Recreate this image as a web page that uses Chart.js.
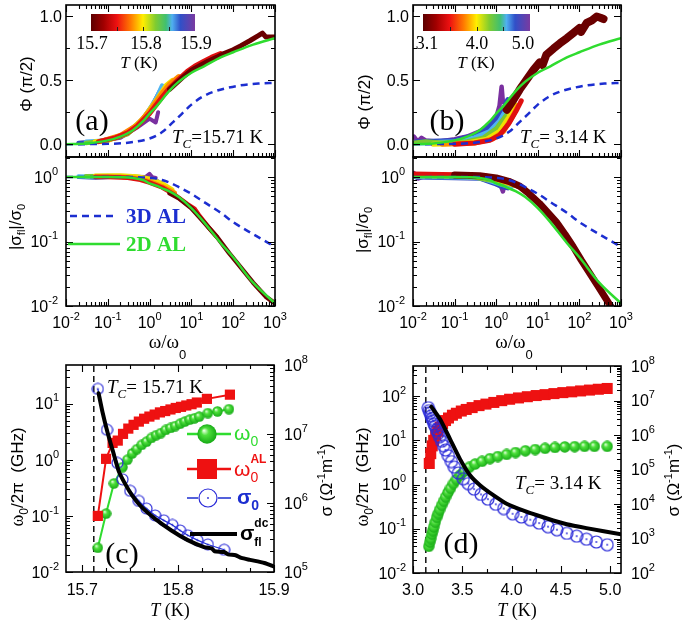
<!DOCTYPE html>
<html>
<head>
<meta charset="utf-8">
<script src="https://cdn.jsdelivr.net/npm/chart.js@4.4.1/dist/chart.umd.min.js"></script>
<style>
  html, body { margin: 0; padding: 0; background: #fff; }
  #wrap { position: relative; width: 685px; height: 624px; overflow: hidden; background: #fff; }
  #wrap canvas { position: absolute; left: 0; top: 0; }
</style>
</head>
<body>
<div id="wrap">
  <canvas id="pa1" width="685" height="624"></canvas>
  <canvas id="pa2" width="685" height="624"></canvas>
  <canvas id="pb1" width="685" height="624"></canvas>
  <canvas id="pb2" width="685" height="624"></canvas>
  <canvas id="pc" width="685" height="624"></canvas>
  <canvas id="pd" width="685" height="624"></canvas>
</div>
<script>
// ---------- data: theory curves (same in a and b) ----------
const omTh   = [0.01, 0.03, 0.1, 0.2, 0.4, 0.7, 1, 1.5, 2, 3, 5, 10, 20, 50, 100, 300, 1000];
const phi2D  = [0, 0.005, 0.03, 0.06, 0.11, 0.18, 0.24, 0.30, 0.35, 0.42, 0.49, 0.56, 0.61, 0.68, 0.72, 0.78, 0.83];
const sig2D  = [1.0, 1.0, 1.0, 0.995, 0.97, 0.9, 0.8, 0.73, 0.67, 0.6, 0.49, 0.33, 0.2, 0.095, 0.057, 0.023, 0.011];
const sig3D  = [1, 1, 1, 1, 1, 0.99, 0.97, 0.94, 0.9, 0.82, 0.7, 0.55, 0.41, 0.28, 0.2, 0.13, 0.083];
const omTh3  = [0.01, 0.1, 0.3, 1, 2, 3.7, 6, 10, 18, 33, 70, 145, 400, 1000];
const phi3D  = [0, 0.003, 0.012, 0.045, 0.095, 0.175, 0.24, 0.31, 0.37, 0.41, 0.44, 0.46, 0.475, 0.48];

// ---------- data: measured curves, one per temperature (dark red = lowest T ... purple = highest T) ----------
const aPhiExp = [
  [[3,0.43],[6,0.52],[10,0.58],[15,0.61],[25,0.65],[40,0.68],[60,0.71],[100,0.74],[150,0.77],[250,0.81],[400,0.85],[500,0.87],[600,0.84],[800,0.84],[1000,0.84]],
  [[0.06,0.02],[0.15,0.05],[0.3,0.09],[0.5,0.14],[1,0.24],[2,0.37],[3,0.44],[5,0.51],[8,0.57],[12,0.61],[20,0.65],[30,0.68],[50,0.71]],
  [[0.08,0.03],[0.2,0.07],[0.5,0.15],[1,0.26],[2,0.4],[3,0.47],[5,0.53]],
  [[0.05,0.02],[0.1,0.03],[0.3,0.09],[0.7,0.2],[1.5,0.35],[2.5,0.46],[3.5,0.5]],
  [[0.03,0.01],[0.1,0.03],[0.3,0.08],[0.7,0.19],[1.2,0.3],[2,0.41]],
  [[0.03,0.02],[0.1,0.03],[0.3,0.09],[0.8,0.22],[1.5,0.37],[2,0.46]],
  [[0.02,0.01],[0.05,0.015],[0.2,0.06],[0.6,0.17],[1.2,0.31],[1.8,0.42]],
  [[0.02,0.01],[0.05,0.02],[0.2,0.05],[0.5,0.13],[1,0.2],[1.4,0.17],[1.6,0.25]]
];
const aSigExp = [
  [[3,0.56],[5,0.47],[10,0.33],[20,0.2],[40,0.12],[80,0.066],[150,0.04],[300,0.023],[600,0.014],[1000,0.011]],
  [[0.05,1.0],[0.1,1.0],[0.3,0.98],[0.6,0.91],[1,0.82],[2,0.69],[4,0.53],[8,0.38],[12,0.32],[15,0.26],[25,0.17],[40,0.12]],
  [[0.05,1.02],[0.2,1.01],[0.5,0.96],[1,0.86],[2,0.72],[4,0.57]],
  [[0.05,1.05],[0.2,1.06],[0.5,1.02],[1,0.94],[2,0.8],[3.5,0.64]],
  [[0.03,1.03],[0.1,1.04],[0.3,1.03],[0.7,0.96],[1.5,0.82],[2,0.74]],
  [[0.02,1.02],[0.06,1.0],[0.2,1.03],[0.6,0.99],[1.2,0.89],[2,0.79]],
  [[0.02,1.0],[0.05,0.98],[0.2,1.02],[0.5,1.0],[1,0.95],[1.6,0.86]],
  [[0.02,1.0],[0.05,1.0],[0.3,1.02],[0.8,1.0],[1,1.12],[1.15,1.0],[1.4,0.97]]
];
const bPhiExp = [
  [[1.8,0.27],[2.5,0.34],[3.7,0.43],[5.5,0.51],[7.8,0.58],[11,0.64],[13,0.62],[16,0.7],[24,0.75],[34,0.79],[50,0.83],[71,0.87],[100,0.91],[110,0.88],[150,0.95],[200,0.97],[260,1.0],[320,0.99],[380,0.98]],
  [[0.1,0.0],[0.3,0.01],[0.7,0.03],[1.2,0.07],[2,0.16],[3,0.26],[4,0.34]],
  [[0.05,0.0],[0.3,0.01],[0.8,0.04],[1.5,0.1],[2.5,0.22],[3.3,0.3]],
  [[0.03,0.0],[0.2,0.01],[0.6,0.04],[1.2,0.1],[2,0.21],[2.8,0.31]],
  [[0.011,0.01],[0.02,0.02],[0.05,0.01],[0.2,0.02],[0.5,0.05],[1,0.12],[2,0.25],[2.6,0.33]],
  [[0.015,0.01],[0.1,0.02],[0.3,0.05],[0.7,0.1],[1.2,0.18],[2,0.3],[2.3,0.36]],
  [[0.012,0.02],[0.1,0.03],[0.3,0.07],[0.6,0.12],[1,0.19],[1.5,0.28],[1.9,0.35]],
  [[0.0105,0.06],[0.013,0.02],[0.016,0.05],[0.02,0.03],[0.04,0.02],[0.1,0.04],[0.2,0.06],[0.4,0.1],[0.7,0.15],[1,0.21],[1.2,0.3],[1.35,0.45],[1.45,0.33]]
];
const bSigExp = [
  [[0.1,1.08],[0.4,1.05],[1,0.97],[2,0.86],[3.7,0.72],[6,0.56],[11,0.39],[16,0.3],[28,0.2],[45,0.13],[71,0.083],[110,0.052],[178,0.032],[300,0.019],[525,0.0107],[700,0.008]],
  [[0.01,1.12],[0.05,1.1],[0.2,1.08],[0.5,1.05],[1,0.97],[2,0.85],[3,0.76],[5,0.62]],
  [[0.01,1.1],[0.05,1.08],[0.3,1.06],[1,0.95],[2,0.83],[3.3,0.72]],
  [[0.01,1.08],[0.1,1.06],[0.3,1.03],[0.8,0.95],[1.5,0.86],[2.8,0.74]],
  [[0.01,1.05],[0.1,1.03],[0.3,1.0],[0.6,0.92],[1,0.88],[2.6,0.76]],
  [[0.012,1.02],[0.1,1.0],[0.4,0.98],[0.8,0.86],[1.3,0.78],[2.3,0.7]],
  [[0.012,1.0],[0.1,0.98],[0.4,0.96],[0.9,0.8],[1.3,0.72],[1.9,0.68]],
  [[0.0105,1.15],[0.013,0.95],[0.02,1.05],[0.1,1.05],[0.5,1.0],[1.2,0.85],[1.45,0.6],[1.55,0.72]]
];

// ---------- data: panel (c), Tc = 15.71 K ----------
const cTc = 15.712;
const cSqT = [15.7162, 15.7248, 15.7316, 15.737, 15.7425, 15.748, 15.7535, 15.759, 15.7645, 15.77, 15.7755, 15.781, 15.7865, 15.792, 15.7975, 15.803, 15.8085, 15.814, 15.8195, 15.830, 15.854];
const cSqW = [0.10, 1.04, 2.0, 2.2, 2.9, 3.6, 4.2, 4.8, 5.4, 5.9, 6.4, 7.0, 7.4, 7.9, 8.4, 8.8, 9.3, 9.8, 10.5, 12.2, 14.5];
const cGrT = [15.7162, 15.7248, 15.733, 15.742, 15.747, 15.752, 15.757, 15.762, 15.767, 15.772, 15.777, 15.782, 15.787, 15.792, 15.797, 15.802, 15.807, 15.812, 15.817, 15.822, 15.831, 15.841, 15.853];
const cGrW = [0.027, 0.11, 0.38, 0.74, 1.0, 1.3, 1.55, 1.85, 2.1, 2.45, 2.75, 3.0, 3.4, 3.7, 4.0, 4.4, 4.8, 5.2, 5.5, 5.9, 6.8, 7.3, 8.0];
const cBlT = [15.7162, 15.7258, 15.7367, 15.742, 15.750, 15.759, 15.767, 15.776, 15.785, 15.794, 15.802, 15.810, 15.820, 15.831, 15.848];
const cBlS = [4.5e7, 1.15e7, 3.8e6, 2.2e6, 1.5e6, 1.07e6, 8.3e5, 6.6e5, 5.6e5, 4.8e5, 4.0e5, 3.4e5, 2.9e5, 2.5e5, 2.1e5];
const cBkT = [15.717, 15.721, 15.726, 15.732, 15.738, 15.745, 15.752, 15.762, 15.776, 15.793, 15.81, 15.827, 15.835, 15.838, 15.848, 15.852, 15.86, 15.866, 15.875, 15.89, 15.9];
const cBkS = [3.9e7, 2.1e7, 1.1e7, 5.6e6, 2.9e6, 1.86e6, 1.29e6, 8.7e5, 5.9e5, 4.0e5, 2.9e5, 2.3e5, 2.2e5, 2.0e5, 1.95e5, 1.8e5, 1.75e5, 1.6e5, 1.5e5, 1.35e5, 1.2e5];

// ---------- data: panel (d), Tc = 3.14 K ----------
const dTc = 3.13;
const dSqT = [3.165, 3.18, 3.195, 3.21, 3.23, 3.25, 3.275, 3.30, 3.33, 3.36, 3.40, 3.44, 3.49, 3.54, 3.60, 3.67, 3.74, 3.82, 3.90, 3.98, 4.07, 4.16, 4.25, 4.34, 4.43, 4.52, 4.61, 4.70, 4.79, 4.88, 4.97];
const dSqW = [3.0, 5.0, 7.5, 10, 13, 16, 20, 24, 28, 32, 37, 41, 46, 50, 55, 61, 66, 72, 79, 85, 91, 97, 103, 108, 114, 120, 125, 131, 137, 143, 149];
const dGrT = [3.16, 3.17, 3.18, 3.19, 3.20, 3.21, 3.225, 3.24, 3.255, 3.27, 3.29, 3.31, 3.33, 3.355, 3.38, 3.41, 3.44, 3.48, 3.52, 3.57, 3.63, 3.70, 3.78, 3.86, 3.95, 4.04, 4.14, 4.24, 4.34, 4.44, 4.54, 4.64, 4.74, 4.84, 4.97];
const dGrW = [0.04, 0.05, 0.06, 0.075, 0.09, 0.11, 0.14, 0.18, 0.22, 0.27, 0.34, 0.42, 0.52, 0.66, 0.82, 1.05, 1.3, 1.65, 2.0, 2.45, 2.9, 3.35, 3.85, 4.3, 4.8, 5.3, 5.8, 6.2, 6.6, 6.9, 7.1, 7.2, 7.3, 7.3, 7.3];
const dBlT = [3.155, 3.165, 3.175, 3.185, 3.195, 3.205, 3.215, 3.225, 3.24, 3.255, 3.27, 3.29, 3.31, 3.33, 3.36, 3.39, 3.42, 3.46, 3.51, 3.56, 3.62, 3.69, 3.76, 3.84, 3.92, 4.01, 4.10, 4.19, 4.28, 4.37, 4.46, 4.56, 4.66, 4.76, 4.86, 4.97];
const dBlS = [6.2e6, 5.1e6, 4.4e6, 3.6e6, 3.0e6, 2.6e6, 2.1e6, 1.8e6, 1.4e6, 1.12e6, 8.9e5, 6.6e5, 4.9e5, 3.7e5, 2.5e5, 1.7e5, 1.17e5, 7.9e4, 5.4e4, 3.9e4, 2.7e4, 1.9e4, 1.38e4, 9.8e3, 7.4e3, 5.2e3, 4.2e3, 3.5e3, 2.8e3, 2.2e3, 1.8e3, 1.41e3, 1.17e3, 955, 794, 661];
const dBkT = [3.185, 3.206, 3.274, 3.376, 3.477, 3.579, 3.68, 3.815, 3.95, 4.15, 4.36, 4.56, 4.76, 5.11];
const dBkS = [6.6e6, 5.5e6, 2.9e6, 7.6e5, 2.0e5, 6.8e4, 3.5e4, 1.8e4, 1.02e4, 6.0e3, 3.8e3, 2.6e3, 2.0e3, 1.32e3];

// ---------- tick labels ----------
const phiTicks = [0, 0.5, 1.0];
const omExp = [-2, -1, 0, 1, 2, 3];
const sigExp = [-2, -1, 0];
const cbLabA = [['15.7', 92], ['15.8', 146], ['15.9', 196]];
const cbLabB = [['3.1', 427], ['4.0', 477], ['5.0', 523]];
const cTTicks = [15.7, 15.8, 15.9];
const dTTicks = [3.0, 3.5, 4.0, 4.5, 5.0];
const cLeftExp = [-2, -1, 0, 1], cRightExp = [5, 6, 7, 8];
const dLeftExp = [-2, -1, 0, 1, 2], dRightExp = [2, 3, 4, 5, 6, 7, 8];

// ---------- styles ----------
const W = 685, H = 624;
const SANS = '"Liberation Sans", Arial, sans-serif';
const SERIF = '"Liberation Serif", "Times New Roman", serif';
const FT = '16px ' + SANS, FS = '11px ' + SANS;
const GREEN = '#2fdc2f', BLUE = '#1c2ed0', RED = '#ee1111';
const tempCols = ['#6a0000', '#e01010', '#ff8a00', '#f0e000', '#78c832', '#4fb4f0', '#3048c0', '#7a30a0'];
const cbStops = [[0, '#5c0000'], [0.12, '#a00000'], [0.25, '#ee1111'], [0.38, '#ff7a00'], [0.5, '#ffee00'],
  [0.62, '#80cc30'], [0.72, '#40c070'], [0.78, '#50b0f0'], [0.86, '#3050c8'], [1, '#7a3aa0']];

// marker images
function sphere(d) {
  const cv = document.createElement('canvas'); cv.width = cv.height = d;
  const g = cv.getContext('2d'), r = d / 2;
  const gr = g.createRadialGradient(r * 0.7, r * 0.65, r * 0.05, r, r, r);
  gr.addColorStop(0, '#e4ffdc'); gr.addColorStop(0.35, '#4ee03c'); gr.addColorStop(1, '#14a814');
  g.fillStyle = gr; g.beginPath(); g.arc(r, r, r - 0.3, 0, Math.PI * 2); g.fill();
  return cv;
}
function ring(d) {
  const cv = document.createElement('canvas'); cv.width = cv.height = d;
  const g = cv.getContext('2d'), r = d / 2;
  g.strokeStyle = '#2a2ad8'; g.lineWidth = 1.2;
  g.beginPath(); g.arc(r, r, r - 1, 0, Math.PI * 2); g.stroke();
  g.fillStyle = '#2a2ad8'; g.beginPath(); g.arc(r, r, 0.9, 0, Math.PI * 2); g.fill();
  return cv;
}
const sph11 = sphere(11), sph12 = sphere(12), sph20 = sphere(20);
const ring13 = ring(13), ring14 = ring(14), ring20 = ring(20);

// ---------- helpers ----------
const xy = (xs, ys) => xs.map((x, i) => ({ x, y: ys[i] }));
const pp = arr => arr.map(p => ({ x: p[0], y: p[1] }));

function lineDs(data, color, width, extra) {
  return Object.assign({ data, showLine: true, borderColor: color, borderWidth: width, pointRadius: 0, tension: 0,
    borderJoinStyle: 'round', borderCapStyle: 'round' }, extra || {});
}

function rich(ctx, x, y, parts, align, rot, color) {
  ctx.save();
  ctx.translate(x, y);
  if (rot) ctx.rotate(rot);
  ctx.textBaseline = 'alphabetic';
  ctx.textAlign = 'left';
  let cur = 0, start = 0;
  const xs = [];
  for (const p of parts) {
    ctx.font = p[1];
    const w = ctx.measureText(p[0]).width;
    let px;
    if (p[4]) { px = start; cur = Math.max(cur, px + w); }
    else { px = cur; start = cur; cur = px + w; }
    xs.push(px);
  }
  const off = align === 'center' ? -cur / 2 : align === 'right' ? -cur : 0;
  parts.forEach((p, i) => {
    ctx.font = p[1];
    ctx.fillStyle = p[3] || color || '#000';
    ctx.fillText(p[0], off + xs[i], p[2] || 0);
  });
  ctx.restore();
}

function pow10(ctx, x, y, e, align) {
  rich(ctx, x, y, [['10', FT], [String(e), FS, -8]], align);
}

function frame(ctx, c) {
  const a = c.chartArea;
  ctx.strokeStyle = '#000'; ctx.lineWidth = 1.6;
  ctx.strokeRect(a.left, a.top, a.right - a.left, a.bottom - a.top);
}

function tk(ctx, c, ax, vals, len, sides) {
  const s = c.scales[ax], a = c.chartArea;
  ctx.strokeStyle = '#000'; ctx.lineWidth = 1.1;
  ctx.beginPath();
  vals.forEach(v => {
    const p = Math.round(s.getPixelForValue(v)) + 0.5;
    if (s.isHorizontal()) {
      if (sides.includes('b')) { ctx.moveTo(p, a.bottom); ctx.lineTo(p, a.bottom - len); }
      if (sides.includes('t')) { ctx.moveTo(p, a.top); ctx.lineTo(p, a.top + len); }
    } else {
      if (sides.includes('l')) { ctx.moveTo(a.left, p); ctx.lineTo(a.left + len, p); }
      if (sides.includes('r')) { ctx.moveTo(a.right, p); ctx.lineTo(a.right - len, p); }
    }
  });
  ctx.stroke();
}

function logTk(ctx, c, ax, sides) {
  const s = c.scales[ax], maj = [], mnr = [];
  for (let e = Math.floor(Math.log10(s.min)) - 1; e <= Math.ceil(Math.log10(s.max)); e++) {
    const b = Math.pow(10, e);
    if (b >= s.min * 0.999 && b <= s.max * 1.001) maj.push(b);
    for (let m = 2; m <= 9; m++) { const v = m * b; if (v > s.min && v < s.max) mnr.push(v); }
  }
  tk(ctx, c, ax, maj, 7, sides);
  tk(ctx, c, ax, mnr, 4, sides);
}

function linTk(ctx, c, ax, step, mstep, sides) {
  const s = c.scales[ax], maj = [], mnr = [];
  for (let k = Math.ceil(s.min / mstep - 1e-6); k * mstep <= s.max + 1e-9; k++) {
    const v = k * mstep;
    const isMaj = Math.abs(v / step - Math.round(v / step)) < 1e-6;
    (isMaj ? maj : mnr).push(v);
  }
  tk(ctx, c, ax, maj, 7, sides);
  tk(ctx, c, ax, mnr, 4, sides);
}

function mkChart(id, area, scales, datasets, decor) {
  return new Chart(document.getElementById(id), {
    type: 'scatter',
    data: { datasets },
    options: {
      responsive: false, animation: false, devicePixelRatio: 1, events: [],
      layout: { padding: { left: area[0], top: area[1], right: W - area[2], bottom: H - area[3] } },
      scales,
      plugins: { legend: { display: false }, tooltip: { enabled: false } }
    },
    plugins: [{ id: 'decor', afterDraw(c) { const ctx = c.ctx; ctx.save(); decor(ctx, c); ctx.restore(); } }]
  });
}

// ---------- top panels (phase) ----------
function topDecor(ctx, c, o) {
  const a = c.chartArea;
  frame(ctx, c);
  logTk(ctx, c, 'x', 'bt');
  linTk(ctx, c, 'y', 0.5, 0.25, 'lr');
  phiTicks.forEach(v => rich(ctx, a.left - 4, c.scales.y.getPixelForValue(v) + 5.7, [[v.toFixed(1), FT]], 'right'));
  rich(ctx, o.yt[0], o.yt[1], [['Φ (π/2)', '17px ' + SANS]], 'center', -Math.PI / 2);
  const g = ctx.createLinearGradient(o.cb[0], 0, o.cb[1], 0);
  cbStops.forEach(s => g.addColorStop(s[0], s[1]));
  ctx.fillStyle = g; ctx.fillRect(o.cb[0], 14, o.cb[1] - o.cb[0], 17);
  ctx.strokeStyle = '#222'; ctx.lineWidth = 1;
  [0.25, 0.5, 0.75].forEach(t => {
    const x = Math.round(o.cb[0] + t * (o.cb[1] - o.cb[0])) + 0.5;
    ctx.beginPath(); ctx.moveTo(x, 31); ctx.lineTo(x, 27); ctx.stroke();
  });
  o.cbl.forEach(l => rich(ctx, l[1], 49, [[l[0], '18px ' + SERIF]], 'center'));
  rich(ctx, o.cbt, 68, [['T', 'italic 17px ' + SERIF], [' (K)', '17px ' + SERIF]], 'center');
  rich(ctx, o.lab[0], 130, [[o.lab[1], '30px ' + SERIF]], 'center');
  rich(ctx, o.tc[0], 143, [['T', 'italic 19px ' + SERIF], ['C', 'italic 13px ' + SERIF, 5], [o.tc[1], '19px ' + SERIF]], 'left');
}

function botDecor(ctx, c, o) {
  const a = c.chartArea;
  frame(ctx, c);
  logTk(ctx, c, 'x', 'b');
  logTk(ctx, c, 'y', 'lr');
  sigExp.forEach(e => pow10(ctx, a.left - 8, c.scales.y.getPixelForValue(Math.pow(10, e)) + 5.7, e, 'right'));
  omExp.forEach(e => pow10(ctx, c.scales.x.getPixelForValue(Math.pow(10, e)), 328, e, 'center'));
  rich(ctx, o.yt[0], o.yt[1], [['|σ', '17px ' + SANS], ['fl', '11px ' + SANS, 4], ['|/σ', '17px ' + SANS], ['0', '11px ' + SANS, 4]], 'center', -Math.PI / 2);
  rich(ctx, (a.left + a.right) / 2 - 3, 348, [['ω/ω', '19px ' + SERIF], ['0', '13px ' + SANS, 11]], 'center');
  if (o.legend) {
    ctx.lineWidth = 2.5;
    ctx.strokeStyle = BLUE; ctx.setLineDash([7, 5]);
    ctx.beginPath(); ctx.moveTo(70, 216); ctx.lineTo(114, 216); ctx.stroke();
    ctx.setLineDash([]); ctx.strokeStyle = GREEN;
    ctx.beginPath(); ctx.moveTo(68, 244); ctx.lineTo(120, 244); ctx.stroke();
    rich(ctx, 126, 223, [['3D AL', 'bold 21px ' + SERIF]], 'left', 0, BLUE);
    rich(ctx, 126, 251, [['2D AL', 'bold 21px ' + SERIF]], 'left', 0, GREEN);
  }
}

function theoryTop() {
  return [
    lineDs(xy(omTh, phi2D), GREEN, 2.5, { cubicInterpolationMode: 'monotone' }),
    lineDs(xy(omTh3, phi3D), BLUE, 2.5, { borderDash: [7, 5], cubicInterpolationMode: 'monotone', borderCapStyle: 'butt' })
  ];
}
function theoryBot() {
  return [
    lineDs(xy(omTh, sig2D), GREEN, 2.5, { cubicInterpolationMode: 'monotone' }),
    lineDs(xy(omTh, sig3D), BLUE, 2.5, { borderDash: [7, 5], cubicInterpolationMode: 'monotone', borderCapStyle: 'butt' })
  ];
}
const expDs = (sets, widths) => sets.map((s, i) => lineDs(pp(s), tempCols[i], widths[i]));

const omScale = { type: 'logarithmic', min: 0.01, max: 1000, display: false };
const phiScale = { type: 'linear', min: -0.1, max: 1.09, display: false };
const sigScale = { type: 'logarithmic', min: 0.01, max: 2.05, display: false };

mkChart('pa1', [66, 5, 275, 157], { x: omScale, y: phiScale },
  theoryTop().concat(expDs(aPhiExp, [5, 5, 5, 5, 4.5, 4.5, 4.5, 4])),
  (ctx, c) => topDecor(ctx, c, { yt: [32, 84], cb: [91, 195], cbl: cbLabA, cbt: 139, lab: [92, '(a)'], tc: [172, '=15.71 K'] }));

mkChart('pa2', [66, 157, 275, 306], { x: omScale, y: sigScale },
  theoryBot().concat(expDs(aSigExp, [4.5, 4.5, 4.5, 4.5, 4.5, 4.5, 4, 4])),
  (ctx, c) => botDecor(ctx, c, { yt: [21, 227], legend: true }));

mkChart('pb1', [413, 5, 621, 157], { x: omScale, y: phiScale },
  theoryTop().concat(expDs(bPhiExp, [8, 5, 5, 5, 5, 5, 5, 4.5])),
  (ctx, c) => topDecor(ctx, c, { yt: [370, 102], cb: [423, 530], cbl: cbLabB, cbt: 476, lab: [447, '(b)'], tc: [520, '= 3.14 K'] }));

mkChart('pb2', [413, 157, 621, 306], { x: omScale, y: sigScale },
  theoryBot().concat(expDs(bSigExp, [7, 5, 5, 5, 5, 5, 5, 4.5])),
  (ctx, c) => botDecor(ctx, c, { yt: [368, 230], legend: false }));

// ---------- (c) and (d) ----------
function tempDecor(ctx, c, o) {
  const a = c.chartArea;
  frame(ctx, c);
  linTk(ctx, c, 'x', o.xStep, o.xMinor, 'bt');
  logTk(ctx, c, 'y', 'l');
  logTk(ctx, c, 'y2', 'r');
  o.xt.forEach(v => rich(ctx, c.scales.x.getPixelForValue(v), 595, [[v.toFixed(1), FT]], 'center'));
  o.le.forEach(e => pow10(ctx, a.left - 7, c.scales.y.getPixelForValue(Math.pow(10, e)) + 5.7, e, 'right'));
  o.re.forEach(e => pow10(ctx, a.right + 10, c.scales.y2.getPixelForValue(Math.pow(10, e)) + 5.7, e, 'left'));
  rich(ctx, (a.left + a.right) / 2, 616, [['T', 'italic 18px ' + SERIF], [' (K)', '18px ' + SERIF]], 'center');
  rich(ctx, o.ylt, 477, [['ω', '18px ' + SERIF], ['0', '12px ' + SANS, 5], ['/2π  (GHz)', '17px ' + SANS]], 'center', -Math.PI / 2);
  rich(ctx, o.yrt, 480, [['σ (Ω', '17px ' + SANS], ['-1', '11px ' + SANS, -7], ['m', '17px ' + SANS], ['-1', '11px ' + SANS, -7], [')', '17px ' + SANS]], 'center', -Math.PI / 2);
  rich(ctx, o.tc[0], o.tc[1], [['T', 'italic 19px ' + SERIF], ['C', 'italic 13px ' + SERIF, 5], [o.tc[2], '19px ' + SERIF]], 'left');
  rich(ctx, o.lab[0], o.lab[1], [[o.lab[2], '30px ' + SERIF]], 'center');
  if (o.legend) {
    ctx.lineWidth = 2.5;
    ctx.strokeStyle = GREEN; ctx.beginPath(); ctx.moveTo(187, 434); ctx.lineTo(231, 434); ctx.stroke();
    ctx.drawImage(sph20, 197, 424);
    rich(ctx, 234, 440, [['ω', '21px ' + SANS], ['0', '14px ' + SANS, 6]], 'left', 0, GREEN);
    ctx.strokeStyle = RED; ctx.beginPath(); ctx.moveTo(187, 469); ctx.lineTo(231, 469); ctx.stroke();
    ctx.fillStyle = RED; ctx.fillRect(197, 459, 20, 20);
    rich(ctx, 234, 476, [['ω', '21px ' + SANS], ['AL', 'bold 12px ' + SANS, -13], ['0', '14px ' + SANS, 6, null, true]], 'left', 0, RED);
    ctx.lineWidth = 1.5;
    ctx.strokeStyle = BLUE; ctx.beginPath(); ctx.moveTo(187, 498); ctx.lineTo(198, 498); ctx.moveTo(218, 498); ctx.lineTo(231, 498); ctx.stroke();
    ctx.drawImage(ring20, 198, 488);
    rich(ctx, 237, 504, [['σ', 'bold 21px ' + SANS], ['0', 'bold 14px ' + SANS, 6]], 'left', 0, BLUE);
    ctx.lineWidth = 4; ctx.strokeStyle = '#000';
    ctx.beginPath(); ctx.moveTo(190, 534); ctx.lineTo(237, 534); ctx.stroke();
    rich(ctx, 240, 540, [['σ', 'bold 21px ' + SANS], ['dc', 'bold 12px ' + SANS, -13], ['fl', 'bold 12px ' + SANS, 6, null, true]], 'left', 0, '#000');
  }
}

function tempSets(tcx, tcRange, sqT, sqW, grT, grW, blT, blS, bkT, bkS, st) {
  return [
    lineDs(xy(bkT, bkS), '#000', 4, { yAxisID: 'y2', tension: 0.2 }),
    { data: xy(blT, blS), yAxisID: 'y2', showLine: st.lines, borderColor: BLUE, borderWidth: 1.2,
      pointStyle: st.ring, pointRadius: 6 },
    { data: xy(sqT, sqW), yAxisID: 'y', showLine: st.lines, borderColor: RED, borderWidth: 2,
      pointStyle: 'rect', pointRadius: st.sq, pointBackgroundColor: RED, pointBorderWidth: 0 },
    { data: xy(grT, grW), yAxisID: 'y', showLine: st.lines, borderColor: GREEN, borderWidth: 2,
      pointStyle: st.sph, pointRadius: 6 },
    lineDs([{ x: tcx, y: tcRange[0] }, { x: tcx, y: tcRange[1] }], '#000', 1.4, { yAxisID: 'y', borderDash: [6, 4], borderCapStyle: 'butt' })
  ];
}

mkChart('pc', [66, 365, 274, 572], {
    x: { type: 'linear', min: 15.683, max: 15.9, display: false },
    y: { type: 'logarithmic', min: 0.01, max: 49, display: false },
    y2: { type: 'logarithmic', min: 1e5, max: 1e8, display: false, position: 'right' }
  },
  tempSets(cTc, [0.01, 49], cSqT, cSqW, cGrT, cGrW, cBlT, cBlS, cBkT, cBkS, { ring: ring13, sph: sph11, sq: 7.2, lines: true }),
  (ctx, c) => tempDecor(ctx, c, { xStep: 0.1, xMinor: 0.025, xt: cTTicks, le: cLeftExp, re: cRightExp, ylt: 23, yrt: 332,
    tc: [107, 393, '= 15.71 K'], lab: [122, 563, '(c)'], legend: true }));

mkChart('pd', [413, 366, 621, 573], {
    x: { type: 'linear', min: 3.0, max: 5.11, display: false },
    y: { type: 'logarithmic', min: 0.01, max: 480, display: false },
    y2: { type: 'logarithmic', min: 1e2, max: 1e8, display: false, position: 'right' }
  },
  tempSets(dTc, [0.01, 480], dSqT, dSqW, dGrT, dGrW, dBlT, dBlS, dBkT, dBkS, { ring: ring14, sph: sph12, sq: 7.8, lines: false }),
  (ctx, c) => tempDecor(ctx, c, { xStep: 0.5, xMinor: 0.25, xt: dTTicks, le: dLeftExp, re: dRightExp, ylt: 368, yrt: 679,
    tc: [515, 489, '= 3.14 K'], lab: [461, 553, '(d)'], legend: false }));
</script>
</body>
</html>
